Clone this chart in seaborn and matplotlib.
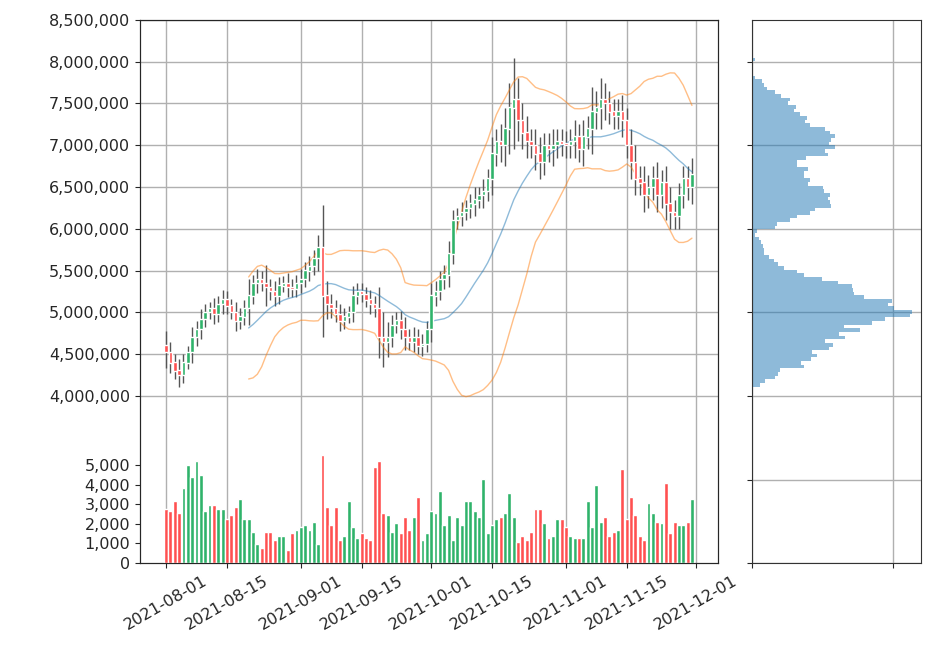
import numpy as np
import pandas as pd
import seaborn as sns
import matplotlib
matplotlib.use("Agg")
import matplotlib.pyplot as plt
import matplotlib.dates as mdates
from matplotlib.ticker import FuncFormatter

# closes in units of 10,000 yen, one per day 2021-08-01 .. 2021-11-30
closes = [452, 440, 430, 425, 440, 452, 470, 480, 492, 500, 505, 498, 510, 515, 508, 500,
          490, 495, 505, 520, 535, 540, 535, 530, 525, 520, 532, 535, 530, 528, 535,
          540, 550, 555, 565, 578, 520, 510, 505, 498, 490, 495, 500, 520, 525, 522,
          515, 510, 505, 470, 465, 470, 485, 490, 480, 470, 465, 470, 460, 462, 480,
          520, 525, 540, 545, 570, 610, 615, 620, 625, 630, 635, 640, 645, 660, 690,
          705, 700, 720, 745, 755, 730, 715, 705, 700, 690, 680, 700, 695, 700, 705, 702,
          700, 705, 710, 695, 710, 720, 740, 745, 755, 750, 740, 735, 740, 730, 700,
          680, 660, 655, 640, 650, 660, 640, 655, 630, 620, 615, 640, 660, 650, 665]
first_open = 460
wicks = [18, 12, 10, 14, 10, 8, 12, 10, 12, 10, 8, 12, 10, 12, 10, 8,
         12, 10, 10, 20, 10, 12, 10, 22, 10, 12, 10, 8, 12, 10, 10,
         12, 10, 12, 10, 15, 50, 18, 12, 10, 12, 10, 8, 12, 10, 10,
         8, 12, 10, 25, 30, 18, 12, 10, 12, 15, 10, 12, 10, 12, 10,
         15, 12, 10, 12, 15, 12, 10, 12, 10, 12, 15, 10, 15, 12, 20,
         15, 20, 25, 30, 50, 25, 20, 20, 15, 20, 20, 15, 15, 20, 15, 15,
         15, 15, 20, 15, 20, 15, 30, 20, 25, 20, 15, 15, 15, 20, 15,
         20, 20, 15, 20, 15, 15, 20, 15, 20, 20, 15, 15, 15, 15, 20]
volumes = [2740, 2650, 3150, 2550, 3850, 5000, 4380, 5200, 4500, 2640, 2950, 2950, 2740, 2740, 2230, 2430,
           2840, 3250, 2230, 2230, 1610, 990, 790, 1610, 1610, 1200, 1400, 1400, 680, 1510, 1710,
           1820, 1920, 1710, 2120, 990, 5510, 2840, 1920, 2840, 1200, 1400, 3150, 1820, 1300, 1510,
           1300, 1200, 4900, 5200, 2530, 2430, 1610, 2020, 1510, 2330, 1710, 2330, 3350, 1200, 1510,
           2640, 2530, 3660, 1920, 2430, 1200, 2330, 1920, 3150, 3150, 2640, 2330, 4280, 1510, 1920,
           2230, 2330, 2530, 3560, 2330, 1100, 1400, 1200, 1610, 2740, 2740, 2020, 1300, 1400, 2230,
           2230, 1820, 1400, 1300, 1300, 1300, 3150, 1820, 3970, 2120, 2330, 1400, 1610, 1710, 4790,
           2230, 3350, 2430, 1400, 1200, 3050, 2530, 2120, 2020, 4080, 1510, 2120, 1920, 1920, 2100, 3250]

dates = pd.date_range("2021-08-01", periods=len(closes), freq="D")
close = np.array(closes) * 1e4
opn = np.r_[first_open * 1e4, close[:-1]]
wick = np.array(wicks) * 1e4
high = np.maximum(opn, close) + wick
low = np.minimum(opn, close) - wick
vol = np.array(volumes)

df = pd.DataFrame({"date": dates, "close": close})
df["mid"] = df["close"].rolling(20).mean()
sd = df["close"].rolling(20).std()
df["upper"] = df["mid"] + 2 * sd
df["lower"] = df["mid"] - 2 * sd

# volume profile: spread each day's volume across its low..high range
prof_price = np.concatenate([np.linspace(l, h, 30) for l, h in zip(low, high)])
prof_weight = np.repeat(vol / 30.0, 30)

sns.set_style("ticks")
plt.rcParams["font.family"] = ["DejaVu Sans"]

green, red = "#2fb36a", "#ff5050"
up = close >= opn
colors = np.where(up, green, red)

fig = plt.figure(figsize=(9.46, 6.64), dpi=100)
ax = fig.add_axes([0.148, 0.152, 0.611, 0.818])
axh = fig.add_axes([0.795, 0.152, 0.179, 0.818])

ax.vlines(dates, low, high, color="#555555", lw=1, zorder=2)
ax.bar(dates, np.abs(close - opn) + 5000, bottom=np.minimum(opn, close),
       width=0.8, color=colors, zorder=3)
sns.lineplot(data=df, x="date", y="mid", ax=ax, color="#1f77b4", alpha=0.5, lw=1)
sns.lineplot(data=df, x="date", y="upper", ax=ax, color="#ff7f0e", alpha=0.5, lw=1)
sns.lineplot(data=df, x="date", y="lower", ax=ax, color="#ff7f0e", alpha=0.5, lw=1)

ax.set_ylim(2_000_000, 8_500_000)
ax.set_yticks(np.arange(4_000_000, 8_500_001, 500_000))
ax.yaxis.set_major_formatter(FuncFormatter(lambda v, p: f"{int(v):,}"))
ax.set_xlabel("")
ax.set_ylabel("")
ticks = pd.to_datetime(["2021-08-01", "2021-08-15", "2021-09-01", "2021-09-15", "2021-10-01",
                        "2021-10-15", "2021-11-01", "2021-11-15", "2021-12-01"])
ax.set_xticks(ticks)
ax.xaxis.set_major_formatter(mdates.DateFormatter("%Y-%m-%d"))
ax.grid(True, color="#b0b0b0", lw=1)
ax.set_axisbelow(True)
plt.setp(ax.get_xticklabels(), rotation=30, ha="center", fontsize=11.5)
plt.setp(ax.get_yticklabels(), fontsize=11.5)

axv = ax.twinx()
axv.bar(dates, vol, width=0.9, color=colors, zorder=2)
axv.set_ylim(0, 27700)
axv.set_yticks(np.arange(0, 5001, 1000))
axv.yaxis.set_major_formatter(FuncFormatter(lambda v, p: f"{int(v):,}"))
axv.yaxis.set_ticks_position("left")
axv.yaxis.set_label_position("left")
plt.setp(axv.get_yticklabels(), fontsize=11.5)
ax.set_xlim(dates[0] - pd.Timedelta(days=6), dates[-1] + pd.Timedelta(days=6))

sns.histplot(y=prof_price, weights=prof_weight, bins=90, ax=axh, color="#1f77b4",
             alpha=0.5, edgecolor="none", linewidth=0)
axh.set_ylim(2_000_000, 8_500_000)
axh.set_yticks(np.arange(2_000_000, 8_500_001, 1_000_000))
axh.tick_params(labelleft=False, labelbottom=False)
peak = max(p.get_width() for p in axh.patches)
axh.set_xlim(0, peak * 1.06)
axh.set_xticks([0, peak * 0.88])
axh.grid(True, color="#b0b0b0", lw=1)
axh.set_xlabel("")
axh.set_ylabel("")
for a in (ax, axh):
    for s in a.spines.values():
        s.set_color("#333333")

fig.savefig("out.png", dpi=100)
